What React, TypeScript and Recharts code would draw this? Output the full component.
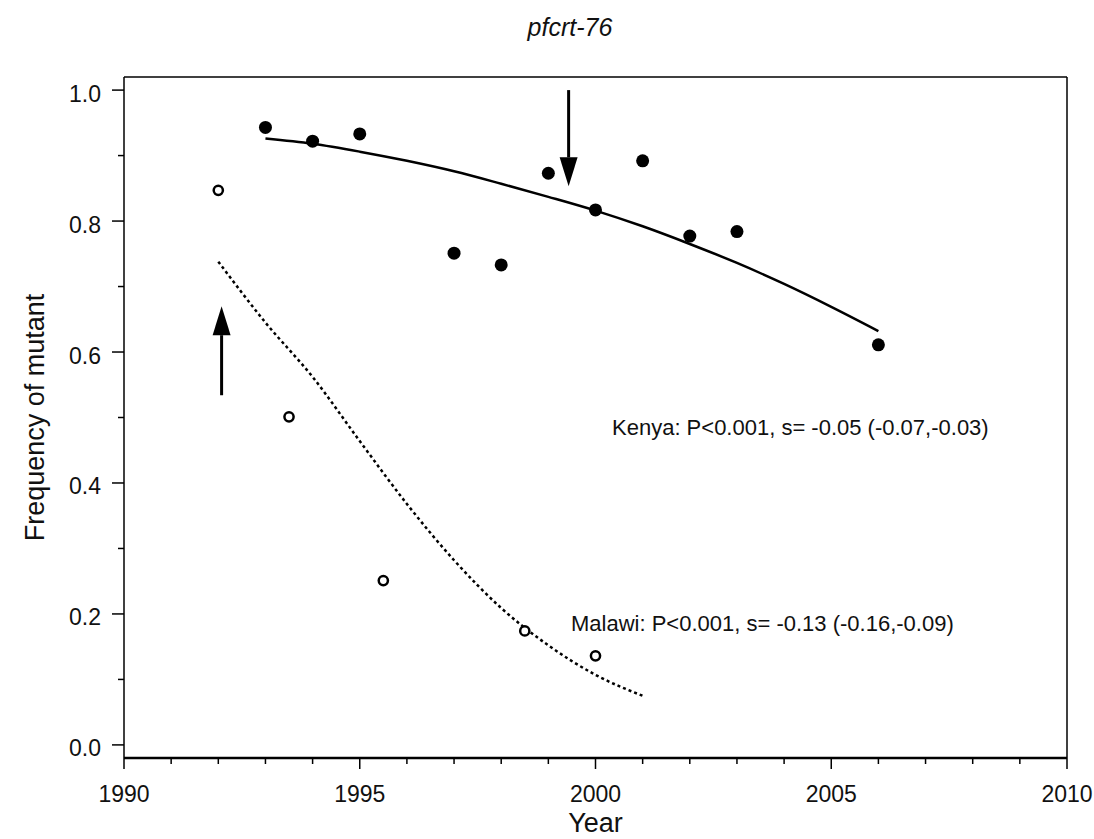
import {
  ComposedChart,
  Scatter,
  Line,
  XAxis,
  YAxis,
  ReferenceLine,
  ReferenceDot,
} from "recharts"

// observed frequencies
const kenyaYears = [1993, 1994, 1995, 1997, 1998, 1999, 2000, 2001, 2002, 2003, 2006]
const kenyaFreq = [0.943, 0.922, 0.933, 0.751, 0.733, 0.873, 0.817, 0.892, 0.777, 0.784, 0.611]

const malawiYears = [1992, 1993.5, 1995.5, 1998.5, 2000]
const malawiFreq = [0.847, 0.501, 0.251, 0.174, 0.136]

// fitted curves
const kenyaFitYears = [1993, 1994, 1995, 1996, 1997, 1998, 1999, 2000, 2001, 2002, 2003, 2004, 2005, 2006]
const kenyaFitFreq = [0.926, 0.918, 0.906, 0.892, 0.876, 0.857, 0.837, 0.816, 0.792, 0.765, 0.736, 0.704, 0.669, 0.632]

const malawiFitYears = [1992, 1993, 1994, 1995, 1996, 1997, 1998, 1999, 2000, 2001]
const malawiFitFreq = [0.738, 0.645, 0.562, 0.464, 0.368, 0.282, 0.209, 0.152, 0.107, 0.075]

const xTicks = Array.from({ length: 21 }, (_, i) => 1990 + i)
const yTicks = [0, 0.1, 0.2, 0.3, 0.4, 0.5, 0.6, 0.7, 0.8, 0.9, 1.0]

const kenya = kenyaYears.map((x, i) => ({ x, y: kenyaFreq[i] }))
const malawi = malawiYears.map((x, i) => ({ x, y: malawiFreq[i] }))
const kenyaFit = kenyaFitYears.map((x, i) => ({ x, y: kenyaFitFreq[i] }))
const malawiFit = malawiFitYears.map((x, i) => ({ x, y: malawiFitFreq[i] }))

const FONT = "'Liberation Sans', Arial, sans-serif"
const INK = "#111"

const XTick = (props) => {
  const { x, y, payload } = props
  const major = payload.value % 5 === 0
  return (
    <g>
      <line x1={x} x2={x} y1={y} y2={y + (major ? 11 : 6)} stroke="#000" strokeWidth={1.5} />
      {major && (
        <text x={x} y={y + 44} textAnchor="middle" fontSize={23} fontFamily={FONT} fill={INK}>
          {payload.value}
        </text>
      )}
    </g>
  )
}

const YTick = (props) => {
  const { x, y, payload } = props
  const v = Math.round(payload.value * 10)
  const major = v % 2 === 0
  return (
    <g>
      <line x1={x - (major ? 12 : 6)} x2={x} y1={y} y2={y} stroke="#000" strokeWidth={1.5} />
      {major && (
        <text x={x - 23} y={y + 11.5} textAnchor="end" fontSize={23} fontFamily={FONT} fill={INK}>
          {(v / 10).toFixed(1)}
        </text>
      )}
    </g>
  )
}

const Arrow = (props) => {
  const { x1, y1, x2, y2 } = props
  const dir = y2 > y1 ? 1 : -1
  const head = 29
  const half = 9
  return (
    <g>
      <line x1={x1} y1={y1} x2={x2} y2={y2 - dir * head} stroke="#000" strokeWidth={3} />
      <polygon
        points={`${x2},${y2} ${x2 - half},${y2 - dir * head} ${x2 + half},${y2 - dir * head}`}
        fill="#000"
      />
    </g>
  )
}

const note = (label) => (props) => (
  <text x={props.cx} y={props.cy} dominantBaseline="central" fontSize={22} fontFamily={FONT} fill={INK}>
    {label}
  </text>
)

export default function App() {
  return (
    <div style={{ position: "absolute", left: 0, top: 0, width: 1094, height: 839, background: "#fff" }}>
      <div
        style={{
          position: "absolute",
          left: 470,
          top: 13,
          width: 200,
          textAlign: "center",
          fontFamily: FONT,
          fontStyle: "italic",
          fontSize: 25,
          color: INK,
        }}
      >
        pfcrt-76
      </div>
      <ComposedChart width={1094} height={839} margin={{ top: 77, right: 27, bottom: 31, left: 24 }}>
        <XAxis
          type="number"
          dataKey="x"
          domain={[1990, 2010]}
          ticks={xTicks}
          interval={0}
          tickSize={0}
          tickMargin={0}
          tick={<XTick />}
          axisLine={{ stroke: "#000", strokeWidth: 2.5 }}
          height={50}
          label={{ value: "Year", position: "bottom", offset: 5, fontSize: 27, fontFamily: FONT, fill: INK }}
        />
        <YAxis
          type="number"
          dataKey="y"
          domain={[-0.02, 1.02]}
          ticks={yTicks}
          interval={0}
          tickSize={0}
          tickMargin={0}
          tick={<YTick />}
          axisLine={{ stroke: "#000", strokeWidth: 1.5 }}
          width={100}
          label={{
            value: "Frequency of mutant",
            angle: -90,
            position: "insideLeft",
            offset: 10,
            fontSize: 27,
            fontFamily: FONT,
            fill: INK,
            style: { textAnchor: "middle" },
          }}
        />
        <ReferenceLine y={1.02} stroke="#000" strokeWidth={1.5} />
        <ReferenceLine x={2010} stroke="#000" strokeWidth={1.5} />

        <Line
          data={kenyaFit}
          dataKey="y"
          type="monotone"
          stroke="#000"
          strokeWidth={2.5}
          dot={false}
          activeDot={false}
          isAnimationActive={false}
        />
        <Line
          data={malawiFit}
          dataKey="y"
          type="monotone"
          stroke="#000"
          strokeWidth={2.5}
          strokeDasharray="3 3"
          dot={false}
          activeDot={false}
          isAnimationActive={false}
        />
        <Scatter
          data={kenya}
          dataKey="y"
          isAnimationActive={false}
          shape={(p) => <circle cx={p.cx} cy={p.cy} r={6.5} fill="#000" />}
        />
        <Scatter
          data={malawi}
          dataKey="y"
          isAnimationActive={false}
          shape={(p) => <circle cx={p.cx} cy={p.cy} r={4.6} fill="#fff" stroke="#000" strokeWidth={2.5} />}
        />

        <ReferenceLine
          segment={[{ x: 1992.07, y: 0.534 }, { x: 1992.07, y: 0.67 }]}
          shape={<Arrow />}
        />
        <ReferenceLine
          segment={[{ x: 1999.43, y: 1.0 }, { x: 1999.43, y: 0.853 }]}
          shape={<Arrow />}
        />

        <ReferenceDot x={2000.35} y={0.485} r={0} shape={note("Kenya: P<0.001, s= -0.05 (-0.07,-0.03)")} />
        <ReferenceDot x={1999.48} y={0.185} r={0} shape={note("Malawi: P<0.001, s= -0.13 (-0.16,-0.09)")} />
      </ComposedChart>
    </div>
  )
}
